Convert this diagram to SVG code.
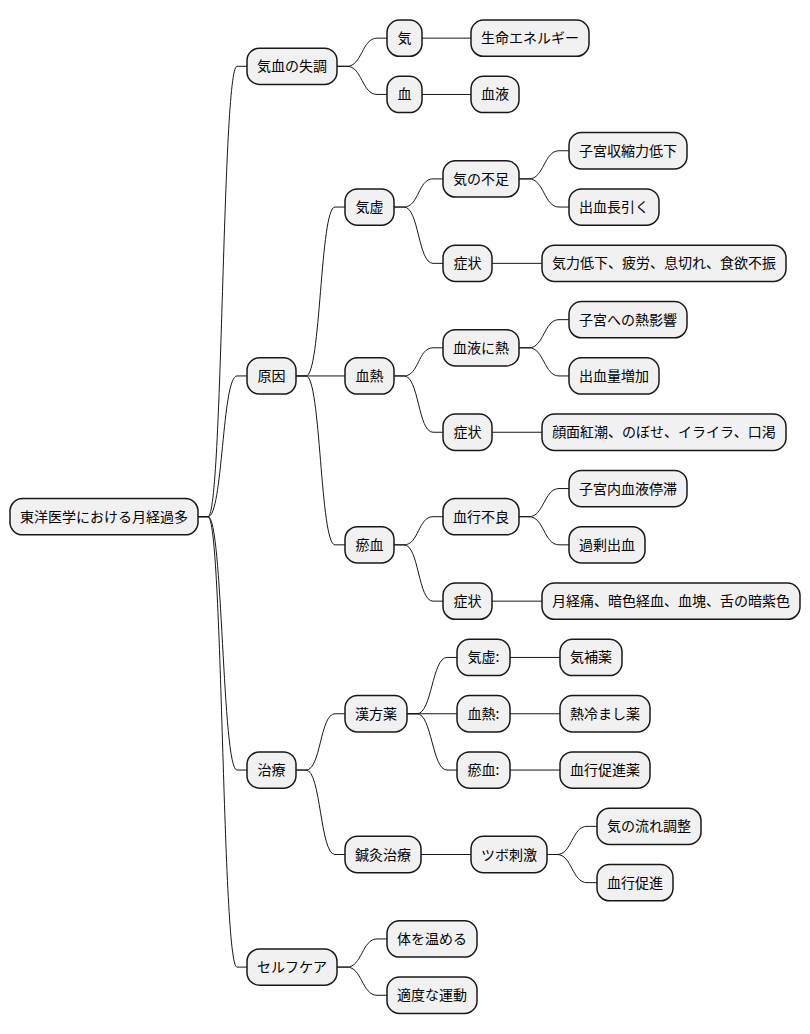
<svg xmlns="http://www.w3.org/2000/svg" width="810" height="1034" viewBox="0 0 810 1034">
<style>
.n rect{fill:#F1F1F1;stroke:#181818;stroke-width:1.5}
.n text{font-family:"Noto Sans CJK JP","Noto Sans",sans-serif;font-size:14px;fill:#000;text-anchor:middle}
#connectors path{fill:none;stroke:#181818;stroke-width:1}
</style>
<rect width="810" height="1034" fill="#FFFFFF"/>
<g id="connectors">
<path d="M198 516.7 L208 516.7 C223 516.7 222 66.3 237 66.3 L247 66.3"/>
<path d="M198 516.7 L208 516.7 C223 516.7 222 375.95 237 375.95 L247 375.95"/>
<path d="M198 516.7 L208 516.7 C223 516.7 222 770.05 237 770.05 L247 770.05"/>
<path d="M198 516.7 L208 516.7 C223 516.7 222 967.1 237 967.1 L247 967.1"/>
<path d="M337 66.3 L347 66.3 C362 66.3 362 38.15 377 38.15 L387 38.15"/>
<path d="M337 66.3 L347 66.3 C362 66.3 362 94.45 377 94.45 L387 94.45"/>
<path d="M422 38.15 L471 38.15"/>
<path d="M422 94.45 L471 94.45"/>
<path d="M296 375.95 L306 375.95 C321 375.95 320 207.05 335 207.05 L345 207.05"/>
<path d="M296 375.95 L345 375.95"/>
<path d="M296 375.95 L306 375.95 C321 375.95 320 544.85 335 544.85 L345 544.85"/>
<path d="M394 207.05 L404 207.05 C419 207.05 418 178.9 433 178.9 L443 178.9"/>
<path d="M394 207.05 L404 207.05 C419 207.05 418 263.35 433 263.35 L443 263.35"/>
<path d="M519 178.9 L529 178.9 C544 178.9 544 150.75 559 150.75 L569 150.75"/>
<path d="M519 178.9 L529 178.9 C544 178.9 544 207.05 559 207.05 L569 207.05"/>
<path d="M492 263.35 L542 263.35"/>
<path d="M394 375.95 L404 375.95 C419 375.95 418 347.8 433 347.8 L443 347.8"/>
<path d="M394 375.95 L404 375.95 C419 375.95 418 432.25 433 432.25 L443 432.25"/>
<path d="M519 347.8 L529 347.8 C544 347.8 544 319.65 559 319.65 L569 319.65"/>
<path d="M519 347.8 L529 347.8 C544 347.8 544 375.95 559 375.95 L569 375.95"/>
<path d="M492 432.25 L542 432.25"/>
<path d="M394 544.85 L404 544.85 C419 544.85 418 516.7 433 516.7 L443 516.7"/>
<path d="M394 544.85 L404 544.85 C419 544.85 418 601.15 433 601.15 L443 601.15"/>
<path d="M519 516.7 L529 516.7 C544 516.7 544 488.55 559 488.55 L569 488.55"/>
<path d="M519 516.7 L529 516.7 C544 516.7 544 544.85 559 544.85 L569 544.85"/>
<path d="M492 601.15 L542 601.15"/>
<path d="M296 770.05 L306 770.05 C321 770.05 320 713.75 335 713.75 L345 713.75"/>
<path d="M296 770.05 L306 770.05 C321 770.05 320 854.5 335 854.5 L345 854.5"/>
<path d="M407 713.75 L417 713.75 C432 713.75 432 657.45 447 657.45 L457 657.45"/>
<path d="M407 713.75 L457 713.75"/>
<path d="M407 713.75 L417 713.75 C432 713.75 432 770.05 447 770.05 L457 770.05"/>
<path d="M510 657.45 L560 657.45"/>
<path d="M510 713.75 L560 713.75"/>
<path d="M510 770.05 L560 770.05"/>
<path d="M421 854.5 L471 854.5"/>
<path d="M547 854.5 L557 854.5 C572 854.5 572 826.35 587 826.35 L597 826.35"/>
<path d="M547 854.5 L557 854.5 C572 854.5 572 882.65 587 882.65 L597 882.65"/>
<path d="M337 967.1 L347 967.1 C362 967.1 362 938.95 377 938.95 L387 938.95"/>
<path d="M337 967.1 L347 967.1 C362 967.1 362 995.25 377 995.25 L387 995.25"/>
</g>
<g id="root" class="n"><rect x="10" y="498.55" width="188" height="36.3" rx="12.5"/><text x="104" y="521.7">東洋医学における月経過多</text></g>
<g id="n1" class="n"><rect x="247" y="48.15" width="90" height="36.3" rx="12.5"/><text x="292" y="71.3">気血の失調</text></g>
<g id="n1a" class="n"><rect x="387" y="20" width="35" height="36.3" rx="12.5"/><text x="404.5" y="43.15">気</text></g>
<g id="n1a1" class="n"><rect x="471" y="20" width="118" height="36.3" rx="12.5"/><text x="530" y="43.15">生命エネルギー</text></g>
<g id="n1b" class="n"><rect x="387" y="76.3" width="35" height="36.3" rx="12.5"/><text x="404.5" y="99.45">血</text></g>
<g id="n1b1" class="n"><rect x="471" y="76.3" width="48" height="36.3" rx="12.5"/><text x="495" y="99.45">血液</text></g>
<g id="n2" class="n"><rect x="247" y="357.8" width="49" height="36.3" rx="12.5"/><text x="271.5" y="380.95">原因</text></g>
<g id="n2a" class="n"><rect x="345" y="188.9" width="49" height="36.3" rx="12.5"/><text x="369.5" y="212.05">気虚</text></g>
<g id="n2a1" class="n"><rect x="443" y="160.75" width="76" height="36.3" rx="12.5"/><text x="481" y="183.9">気の不足</text></g>
<g id="n2a1a" class="n"><rect x="569" y="132.6" width="118" height="36.3" rx="12.5"/><text x="628" y="155.75">子宮収縮力低下</text></g>
<g id="n2a1b" class="n"><rect x="569" y="188.9" width="90" height="36.3" rx="12.5"/><text x="614" y="212.05">出血長引く</text></g>
<g id="n2a2" class="n"><rect x="443" y="245.2" width="49" height="36.3" rx="12.5"/><text x="467.5" y="268.35">症状</text></g>
<g id="n2a2a" class="n"><rect x="542" y="245.2" width="244" height="36.3" rx="12.5"/><text x="664" y="268.35">気力低下、疲労、息切れ、食欲不振</text></g>
<g id="n2b" class="n"><rect x="345" y="357.8" width="49" height="36.3" rx="12.5"/><text x="369.5" y="380.95">血熱</text></g>
<g id="n2b1" class="n"><rect x="443" y="329.65" width="76" height="36.3" rx="12.5"/><text x="481" y="352.8">血液に熱</text></g>
<g id="n2b1a" class="n"><rect x="569" y="301.5" width="118" height="36.3" rx="12.5"/><text x="628" y="324.65">子宮への熱影響</text></g>
<g id="n2b1b" class="n"><rect x="569" y="357.8" width="90" height="36.3" rx="12.5"/><text x="614" y="380.95">出血量増加</text></g>
<g id="n2b2" class="n"><rect x="443" y="414.1" width="49" height="36.3" rx="12.5"/><text x="467.5" y="437.25">症状</text></g>
<g id="n2b2a" class="n"><rect x="542" y="414.1" width="244" height="36.3" rx="12.5"/><text x="664" y="437.25">顔面紅潮、のぼせ、イライラ、口渇</text></g>
<g id="n2c" class="n"><rect x="345" y="526.7" width="49" height="36.3" rx="12.5"/><text x="369.5" y="549.85">瘀血</text></g>
<g id="n2c1" class="n"><rect x="443" y="498.55" width="76" height="36.3" rx="12.5"/><text x="481" y="521.7">血行不良</text></g>
<g id="n2c1a" class="n"><rect x="569" y="470.4" width="118" height="36.3" rx="12.5"/><text x="628" y="493.55">子宮内血液停滞</text></g>
<g id="n2c1b" class="n"><rect x="569" y="526.7" width="76" height="36.3" rx="12.5"/><text x="607" y="549.85">過剰出血</text></g>
<g id="n2c2" class="n"><rect x="443" y="583" width="49" height="36.3" rx="12.5"/><text x="467.5" y="606.15">症状</text></g>
<g id="n2c2a" class="n"><rect x="542" y="583" width="258" height="36.3" rx="12.5"/><text x="671" y="606.15">月経痛、暗色経血、血塊、舌の暗紫色</text></g>
<g id="n3" class="n"><rect x="247" y="751.9" width="49" height="36.3" rx="12.5"/><text x="271.5" y="775.05">治療</text></g>
<g id="n3a" class="n"><rect x="345" y="695.6" width="62" height="36.3" rx="12.5"/><text x="376" y="718.75">漢方薬</text></g>
<g id="n3a1" class="n"><rect x="457" y="639.3" width="53" height="36.3" rx="12.5"/><text x="483.5" y="662.45">気虚:</text></g>
<g id="n3a1a" class="n"><rect x="560" y="639.3" width="62" height="36.3" rx="12.5"/><text x="591" y="662.45">気補薬</text></g>
<g id="n3a2" class="n"><rect x="457" y="695.6" width="53" height="36.3" rx="12.5"/><text x="483.5" y="718.75">血熱:</text></g>
<g id="n3a2a" class="n"><rect x="560" y="695.6" width="90" height="36.3" rx="12.5"/><text x="605" y="718.75">熱冷まし薬</text></g>
<g id="n3a3" class="n"><rect x="457" y="751.9" width="53" height="36.3" rx="12.5"/><text x="483.5" y="775.05">瘀血:</text></g>
<g id="n3a3a" class="n"><rect x="560" y="751.9" width="90" height="36.3" rx="12.5"/><text x="605" y="775.05">血行促進薬</text></g>
<g id="n3b" class="n"><rect x="345" y="836.35" width="76" height="36.3" rx="12.5"/><text x="383" y="859.5">鍼灸治療</text></g>
<g id="n3b1" class="n"><rect x="471" y="836.35" width="76" height="36.3" rx="12.5"/><text x="509" y="859.5">ツボ刺激</text></g>
<g id="n3b1a" class="n"><rect x="597" y="808.2" width="104" height="36.3" rx="12.5"/><text x="649" y="831.35">気の流れ調整</text></g>
<g id="n3b1b" class="n"><rect x="597" y="864.5" width="76" height="36.3" rx="12.5"/><text x="635" y="887.65">血行促進</text></g>
<g id="n4" class="n"><rect x="247" y="948.95" width="90" height="36.3" rx="12.5"/><text x="292" y="972.1">セルフケア</text></g>
<g id="n4a" class="n"><rect x="387" y="920.8" width="90" height="36.3" rx="12.5"/><text x="432" y="943.95">体を温める</text></g>
<g id="n4b" class="n"><rect x="387" y="977.1" width="90" height="36.3" rx="12.5"/><text x="432" y="1000.25">適度な運動</text></g>
</svg>
